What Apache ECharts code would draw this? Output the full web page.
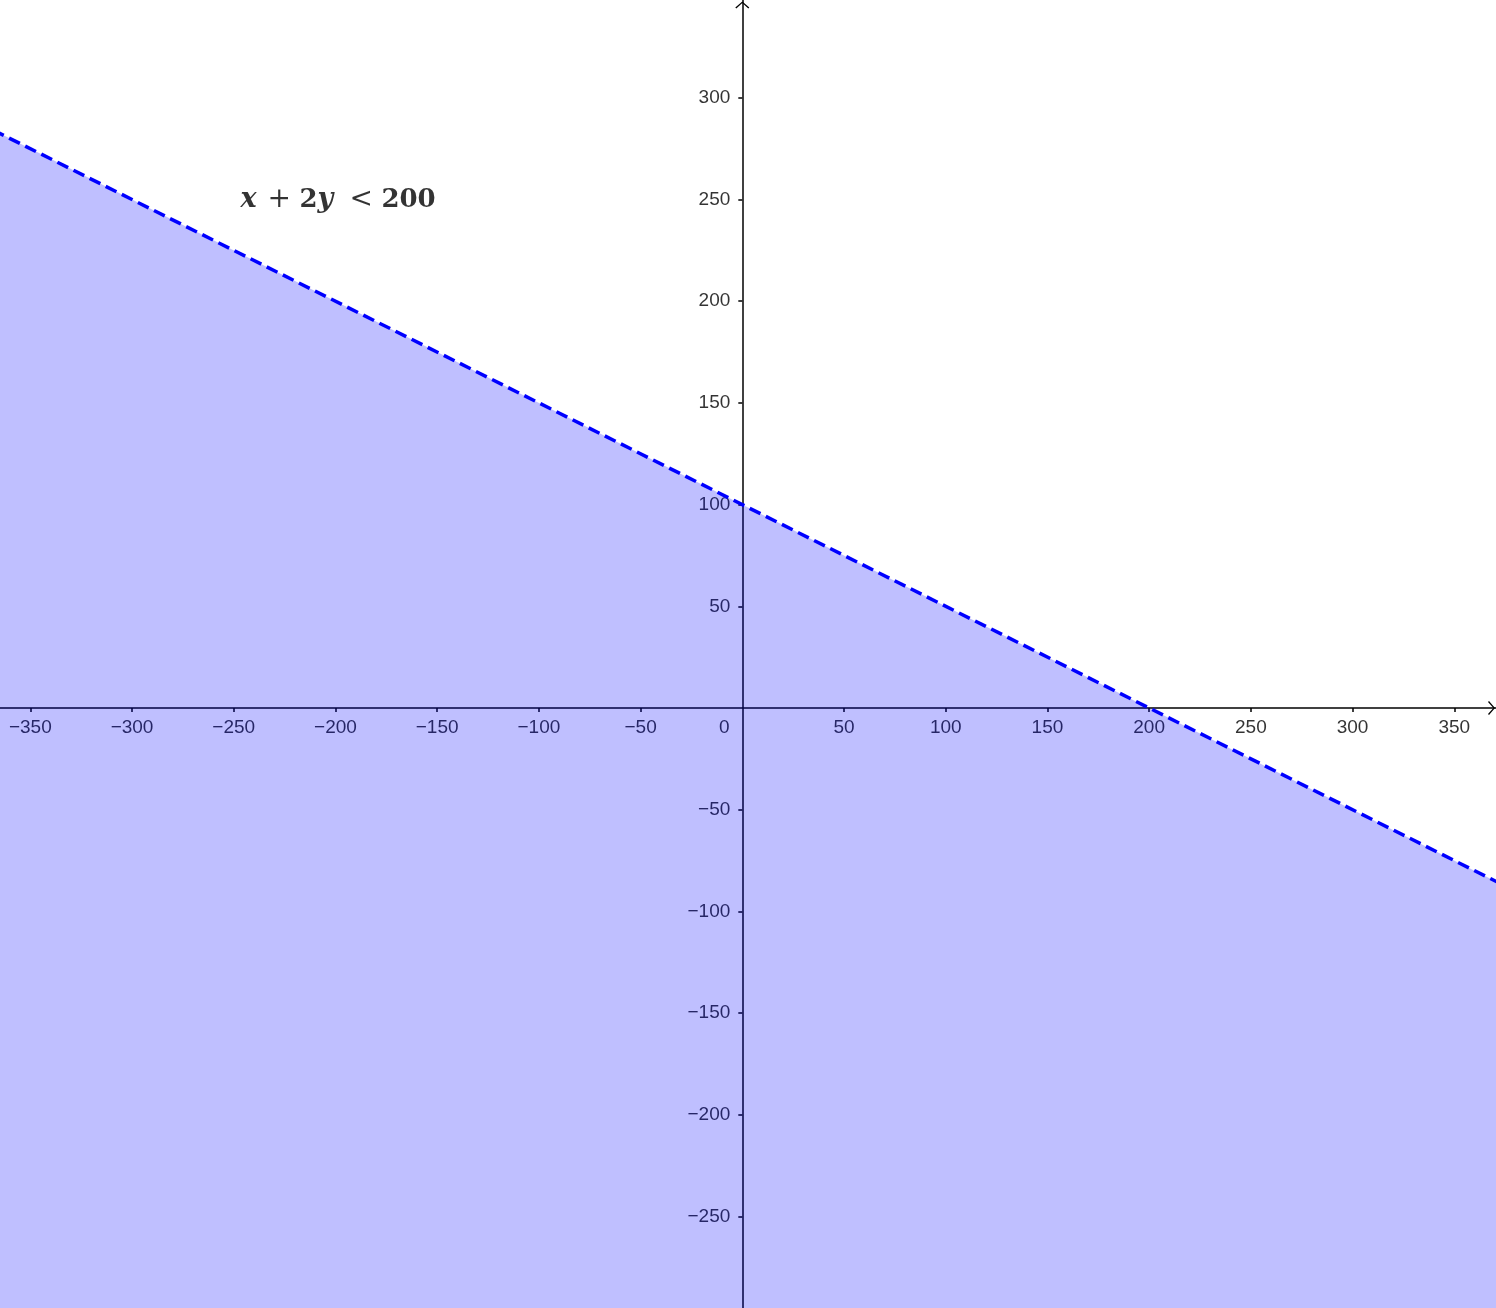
<!DOCTYPE html>
<html>
<head>
<meta charset="utf-8">
<script src="https://cdn.jsdelivr.net/npm/echarts@6/dist/echarts.min.js"></script>
<style>
html,body{margin:0;padding:0;background:#fff;}
#chart{width:1496px;height:1308px;}
</style>
</head>
<body>
<div id="chart"></div>
<script>
// ---- data ----
const xTickValues = [-350, -300, -250, -200, -150, -100, -50, 0, 50, 100, 150, 200, 250, 300, 350];
const yTickValues = [-250, -200, -150, -100, -50, 50, 100, 150, 200, 250, 300];
const xRange = [-364.9, 370.5];
const yRange = [-295.0, 348.1];
// boundary line x + 2y = 200 (endpoints beyond the view, clipped)
const boundaryLine = [[-400, 300], [400, -100]];
const inequalityLabelPos = [-198.3, 249.8];
const inequalityTokens = ['x', '+', '2', 'y', '<', '200'];

const chart = echarts.init(document.getElementById('chart'), null, {renderer: 'canvas'});
const minus = v => String(v).replace('-', '\u2212');
const arrowPath = 'path://M0,6 L7,0 L14,6 L13,7 L7,1.6 L1,7 Z';
const sans = 'Liberation Sans, Arial, Helvetica, sans-serif';
const serif = 'DejaVu Serif, Liberation Serif, serif';

const option = {
  animation: false,
  backgroundColor: '#ffffff',
  grid: {left: 0, right: 0, top: 0, bottom: 0, containLabel: false, outerBoundsMode: 'none'},
  xAxis: {
    type: 'value',
    min: xRange[0], max: xRange[1],
    splitLine: {show: false},
    axisLine: {onZero: true, lineStyle: {color: '#000', width: 1.5},
      symbol: ['none', arrowPath], symbolSize: [14, 7], symbolOffset: [0, -4.5]},
    axisTick: {show: true, length: 4, inside: false, lineStyle: {color: '#000', width: 1.5},
      customValues: xTickValues.filter(v => v !== 0)},
    axisLabel: {show: false}
  },
  yAxis: {
    type: 'value',
    min: yRange[0], max: yRange[1],
    splitLine: {show: false},
    axisLine: {onZero: true, lineStyle: {color: '#000', width: 1.5},
      symbol: ['none', arrowPath], symbolSize: [14, 7], symbolOffset: [0, -5]},
    axisTick: {show: true, length: 4, inside: false, lineStyle: {color: '#000', width: 1.5},
      customValues: yTickValues},
    axisLabel: {show: false}
  },
  series: [
    // x tick labels
    {
      type: 'scatter',
      z: 1,
      silent: true,
      symbolSize: 0,
      data: xTickValues.map(v => [v, 0]),
      label: {
        show: true,
        position: 'bottom',
        distance: 10,
        color: '#000',
        fontFamily: sans,
        fontSize: 19,
        formatter: p => minus(p.value[0])
      },
      labelLayout: p => (p.text === '0' ? {dx: -18} : {})
    },
    // y tick labels
    {
      type: 'scatter',
      z: 1,
      silent: true,
      symbolSize: 0,
      data: yTickValues.map(v => [0, v]),
      label: {
        show: true,
        position: 'left',
        distance: 12,
        color: '#000',
        fontFamily: sans,
        fontSize: 19,
        formatter: p => minus(p.value[1])
      }
    },
    {
      type: 'line',
      data: boundaryLine,
      symbol: 'none',
      clip: true,
      z: 3,
      lineStyle: {color: '#0000ff', width: 3.5, type: [12, 6]},
      areaStyle: {color: 'rgba(0,0,255,0.25)', origin: 'start', opacity: 1}
    },
    {
      type: 'scatter',
      data: [inequalityLabelPos],
      symbolSize: 0,
      z: 4,
      silent: true,
      label: {
        show: true,
        position: 'inside',
        color: '#000',
        formatter: '{i1|' + inequalityTokens[0] + '}{op|' + inequalityTokens[1] + '}{d1|' + inequalityTokens[2] +
                   '}{i2|' + inequalityTokens[3] + '}{op|' + inequalityTokens[4] + '}{d3|' + inequalityTokens[5] + '}',
        rich: {
          i1: {fontFamily: serif, fontStyle: 'italic', fontWeight: 'bold', fontSize: 27, color: '#000', width: 27, align: 'left'},
          i2: {fontFamily: serif, fontStyle: 'italic', fontWeight: 'bold', fontSize: 27, color: '#000', width: 32, align: 'left'},
          op: {fontFamily: serif, fontWeight: 'normal', fontSize: 28, color: '#000', width: 32, align: 'left'},
          d1: {fontFamily: serif, fontWeight: 'bold', fontSize: 26, color: '#000', width: 18, align: 'left'},
          d3: {fontFamily: serif, fontWeight: 'bold', fontSize: 26, color: '#000', width: 56, align: 'left'}
        }
      }
    }
  ]
};
chart.setOption(option);
</script>
</body>
</html>
